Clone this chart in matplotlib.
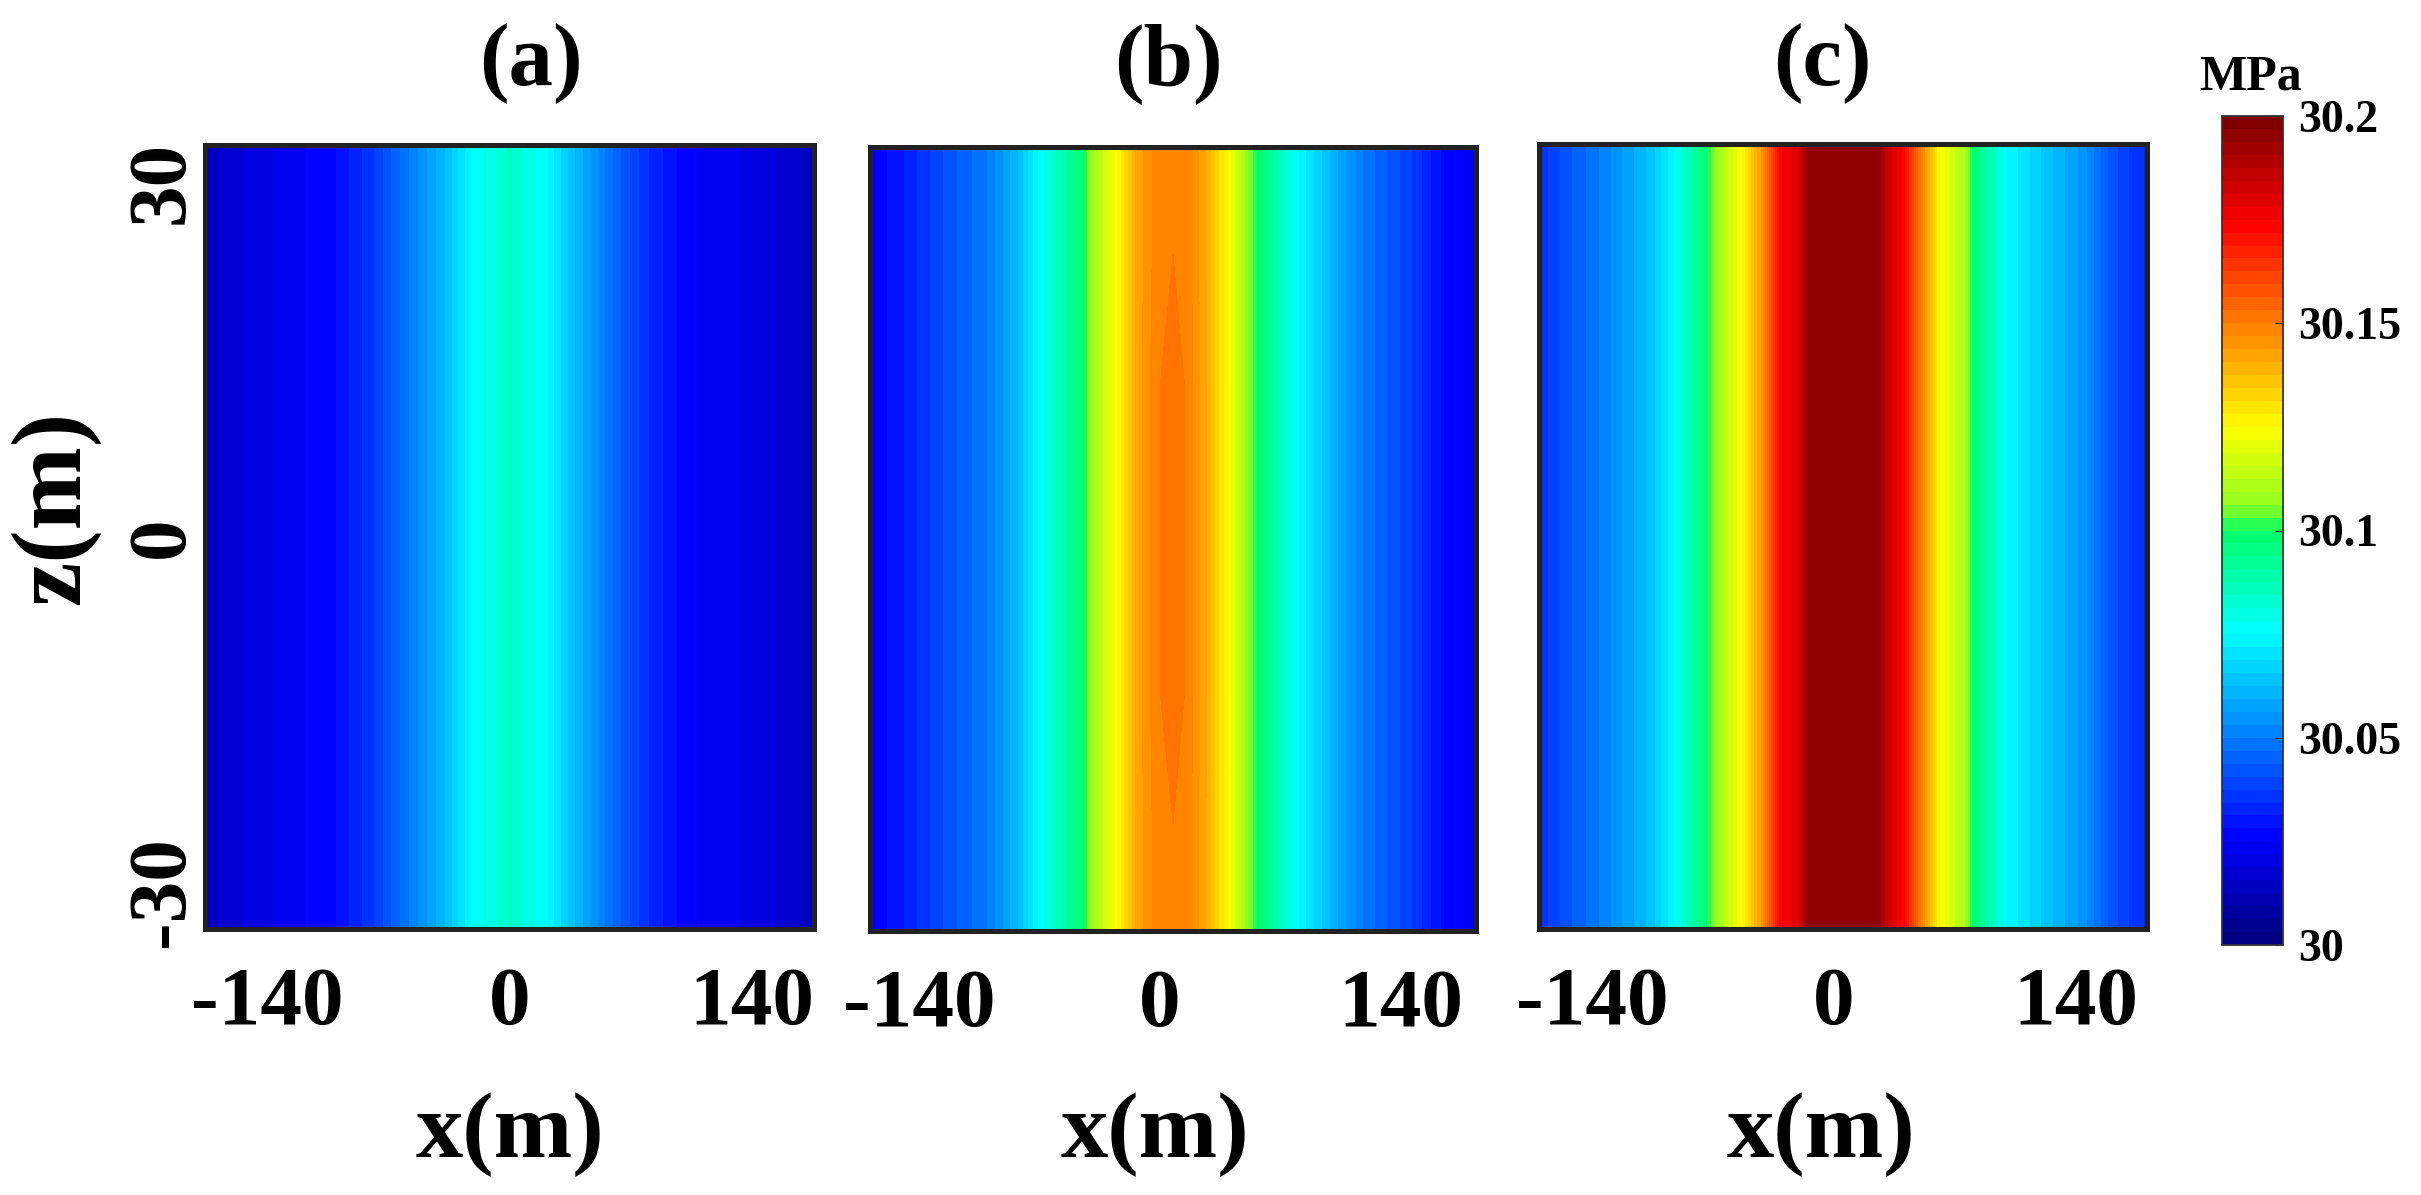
import matplotlib
matplotlib.use("Agg")
import matplotlib.pyplot as plt
import numpy as np
from matplotlib.cm import ScalarMappable
from matplotlib.colors import LinearSegmentedColormap, Normalize
from matplotlib.transforms import ScaledTranslation

W, H = 2421, 1195

# pressure along x (MPa)
x_a = [-176, -148, -118, -102, -81, -58, -37, -22, -10, 0, 10, 22, 38, 61, 79, 102, 118, 148, 176]
p_a = [30.014, 30.02, 30.025, 30.0275, 30.036, 30.05, 30.0625, 30.075, 30.08, 30.085,
       30.08, 30.075, 30.0625, 30.046, 30.035, 30.026, 30.024, 30.02, 30.014]

x_b = [-176, -157, -129, -108, -90, -78.5, -51, -49, -32.6, -21, -10, 0, 9, 20, 32, 44, 49, 73, 91, 112, 137, 156, 169, 176]
p_b = [30.025, 30.031, 30.0425, 30.05, 30.0625, 30.075, 30.1, 30.106, 30.125, 30.1415, 30.149, 30.1529,
       30.149, 30.14, 30.125, 30.106, 30.1, 30.075, 30.0625, 30.049, 30.0385, 30.028, 30.025, 30.024]
# same profile near the top and bottom, the centre is a little lower there
p_b_ends = [30.025, 30.031, 30.0425, 30.05, 30.0625, 30.075, 30.1, 30.106, 30.125, 30.1415, 30.148, 30.1495,
            30.148, 30.14, 30.125, 30.106, 30.1, 30.075, 30.0625, 30.049, 30.0385, 30.028, 30.025, 30.024]

x_c = [-176, -160, -141, -123, -111, -97.6, -79, -73, -58.5, -47, -35.6, -26, -20.7, 0, 20.7, 26, 34.4, 45, 56, 72, 74.6, 95, 118, 139, 155, 171, 176]
p_c = [30.035, 30.0425, 30.05, 30.0585, 30.064, 30.075, 30.1, 30.108, 30.125, 30.145, 30.175, 30.18, 30.195, 30.1965,
       30.195, 30.184, 30.175, 30.15, 30.125, 30.108, 30.1, 30.075, 30.064, 30.055, 30.0425, 30.035, 30.034]

z_rows = [-34, -26, 0, 26, 34]
z_rows_b = [-34, -26, -13, 0, 13, 26, 34]
x_ticks = [-140, 0, 140]
z_ticks = [-30, 0, 30]
panel_titles = ["(a)", "(b)", "(c)"]
cbar_ticks = [30, 30.05, 30.1, 30.15, 30.2]
cbar_labels = ["30", "30.05", "30.1", "30.15", "30.2"]

plt.rcParams["font.family"] = ["Liberation Serif", "DejaVu Serif"]
plt.rcParams["font.weight"] = "bold"
plt.rcParams["axes.unicode_minus"] = False

# jet in 64 steps, with the stronger green of the original colour bar
jet64 = LinearSegmentedColormap.from_list(
    "jet64",
    [(0, "#000080"), (0.125, "#0000ff"), (0.375, "#00ffff"), (0.5, "#00ff66"), (0.53, "#90ff20"),
     (0.625, "#ffff00"), (0.875, "#ff0000"), (1, "#800000")],
    N=64,
)
norm = Normalize(30, 30.2)
levels = np.linspace(30, 30.2, 65)


def px_axes(fig, left, right, top, bottom):
    return fig.add_axes([left / W, 1 - bottom / H, (right - left) / W, (bottom - top) / H])


fig = plt.figure(figsize=(W / 100, H / 100), dpi=100)

boxes = [(205, 814, 145, 929), (870, 1476, 147, 931), (1539, 2147, 144, 929)]
fields = [
    (x_a, z_rows, [p_a] * 5),
    (x_b, z_rows_b, [p_b_ends, p_b_ends, p_b, p_b, p_b, p_b_ends, p_b_ends]),
    (x_c, z_rows, [p_c] * 5),
]
label_shift = [0, -13, -9]
xlabel_x = [510, 1155, 1821]
title_x = [531, 1168, 1822]

for i in range(3):
    ax = px_axes(fig, *boxes[i])
    xs, zs, rows = fields[i]
    ax.contourf(xs, zs, np.array(rows), levels=levels, cmap=jet64, norm=norm, extend="both", antialiased=False)
    ax.set_xlim(-176, 176)
    ax.set_ylim(-33.2, 33.2)
    ax.set_xticks(x_ticks)
    ax.tick_params(axis="x", length=0, pad=27, labelsize=60)
    # the labels sit a bit left of centre in panels b and c
    shift = ScaledTranslation(label_shift[i] / 100, 0, fig.dpi_scale_trans)
    for lab in ax.get_xticklabels():
        lab.set_transform(lab.get_transform() + shift)
    if i == 0:
        ax.set_yticks(z_ticks)
        ax.set_yticklabels(z_ticks, rotation=90, va="center", fontsize=60)
        ax.tick_params(axis="y", length=0, pad=3)
    else:
        ax.set_yticks([])
    for sp in ax.spines.values():
        sp.set_linewidth(3.6)
        sp.set_color("#222222")
    fig.text(xlabel_x[i] / W, 1 - 1157 / H, "x(m)", fontsize=68, ha="center", va="baseline")
    fig.text(title_x[i] / W, 1 - 85 / H, panel_titles[i], fontsize=64, ha="center", va="baseline")

fig.text(55 / W, 1 - 508 / H, "z(m)", fontsize=72, rotation=90, ha="center", va="center")

cax = px_axes(fig, 2222, 2283, 116, 945)
cb = fig.colorbar(ScalarMappable(norm=norm, cmap=jet64), cax=cax, ticks=cbar_ticks)
cb.ax.set_yticklabels(cbar_labels)
cb.ax.tick_params(direction="in", length=6, width=0.8, pad=11, labelsize=33, color="#333333")
cb.outline.set_linewidth(1.3)
cb.outline.set_edgecolor("#333333")
fig.text(2251 / W, 1 - 90 / H, "MPa", fontsize=36, ha="center", va="baseline")

fig.savefig("out.png", dpi=100)
